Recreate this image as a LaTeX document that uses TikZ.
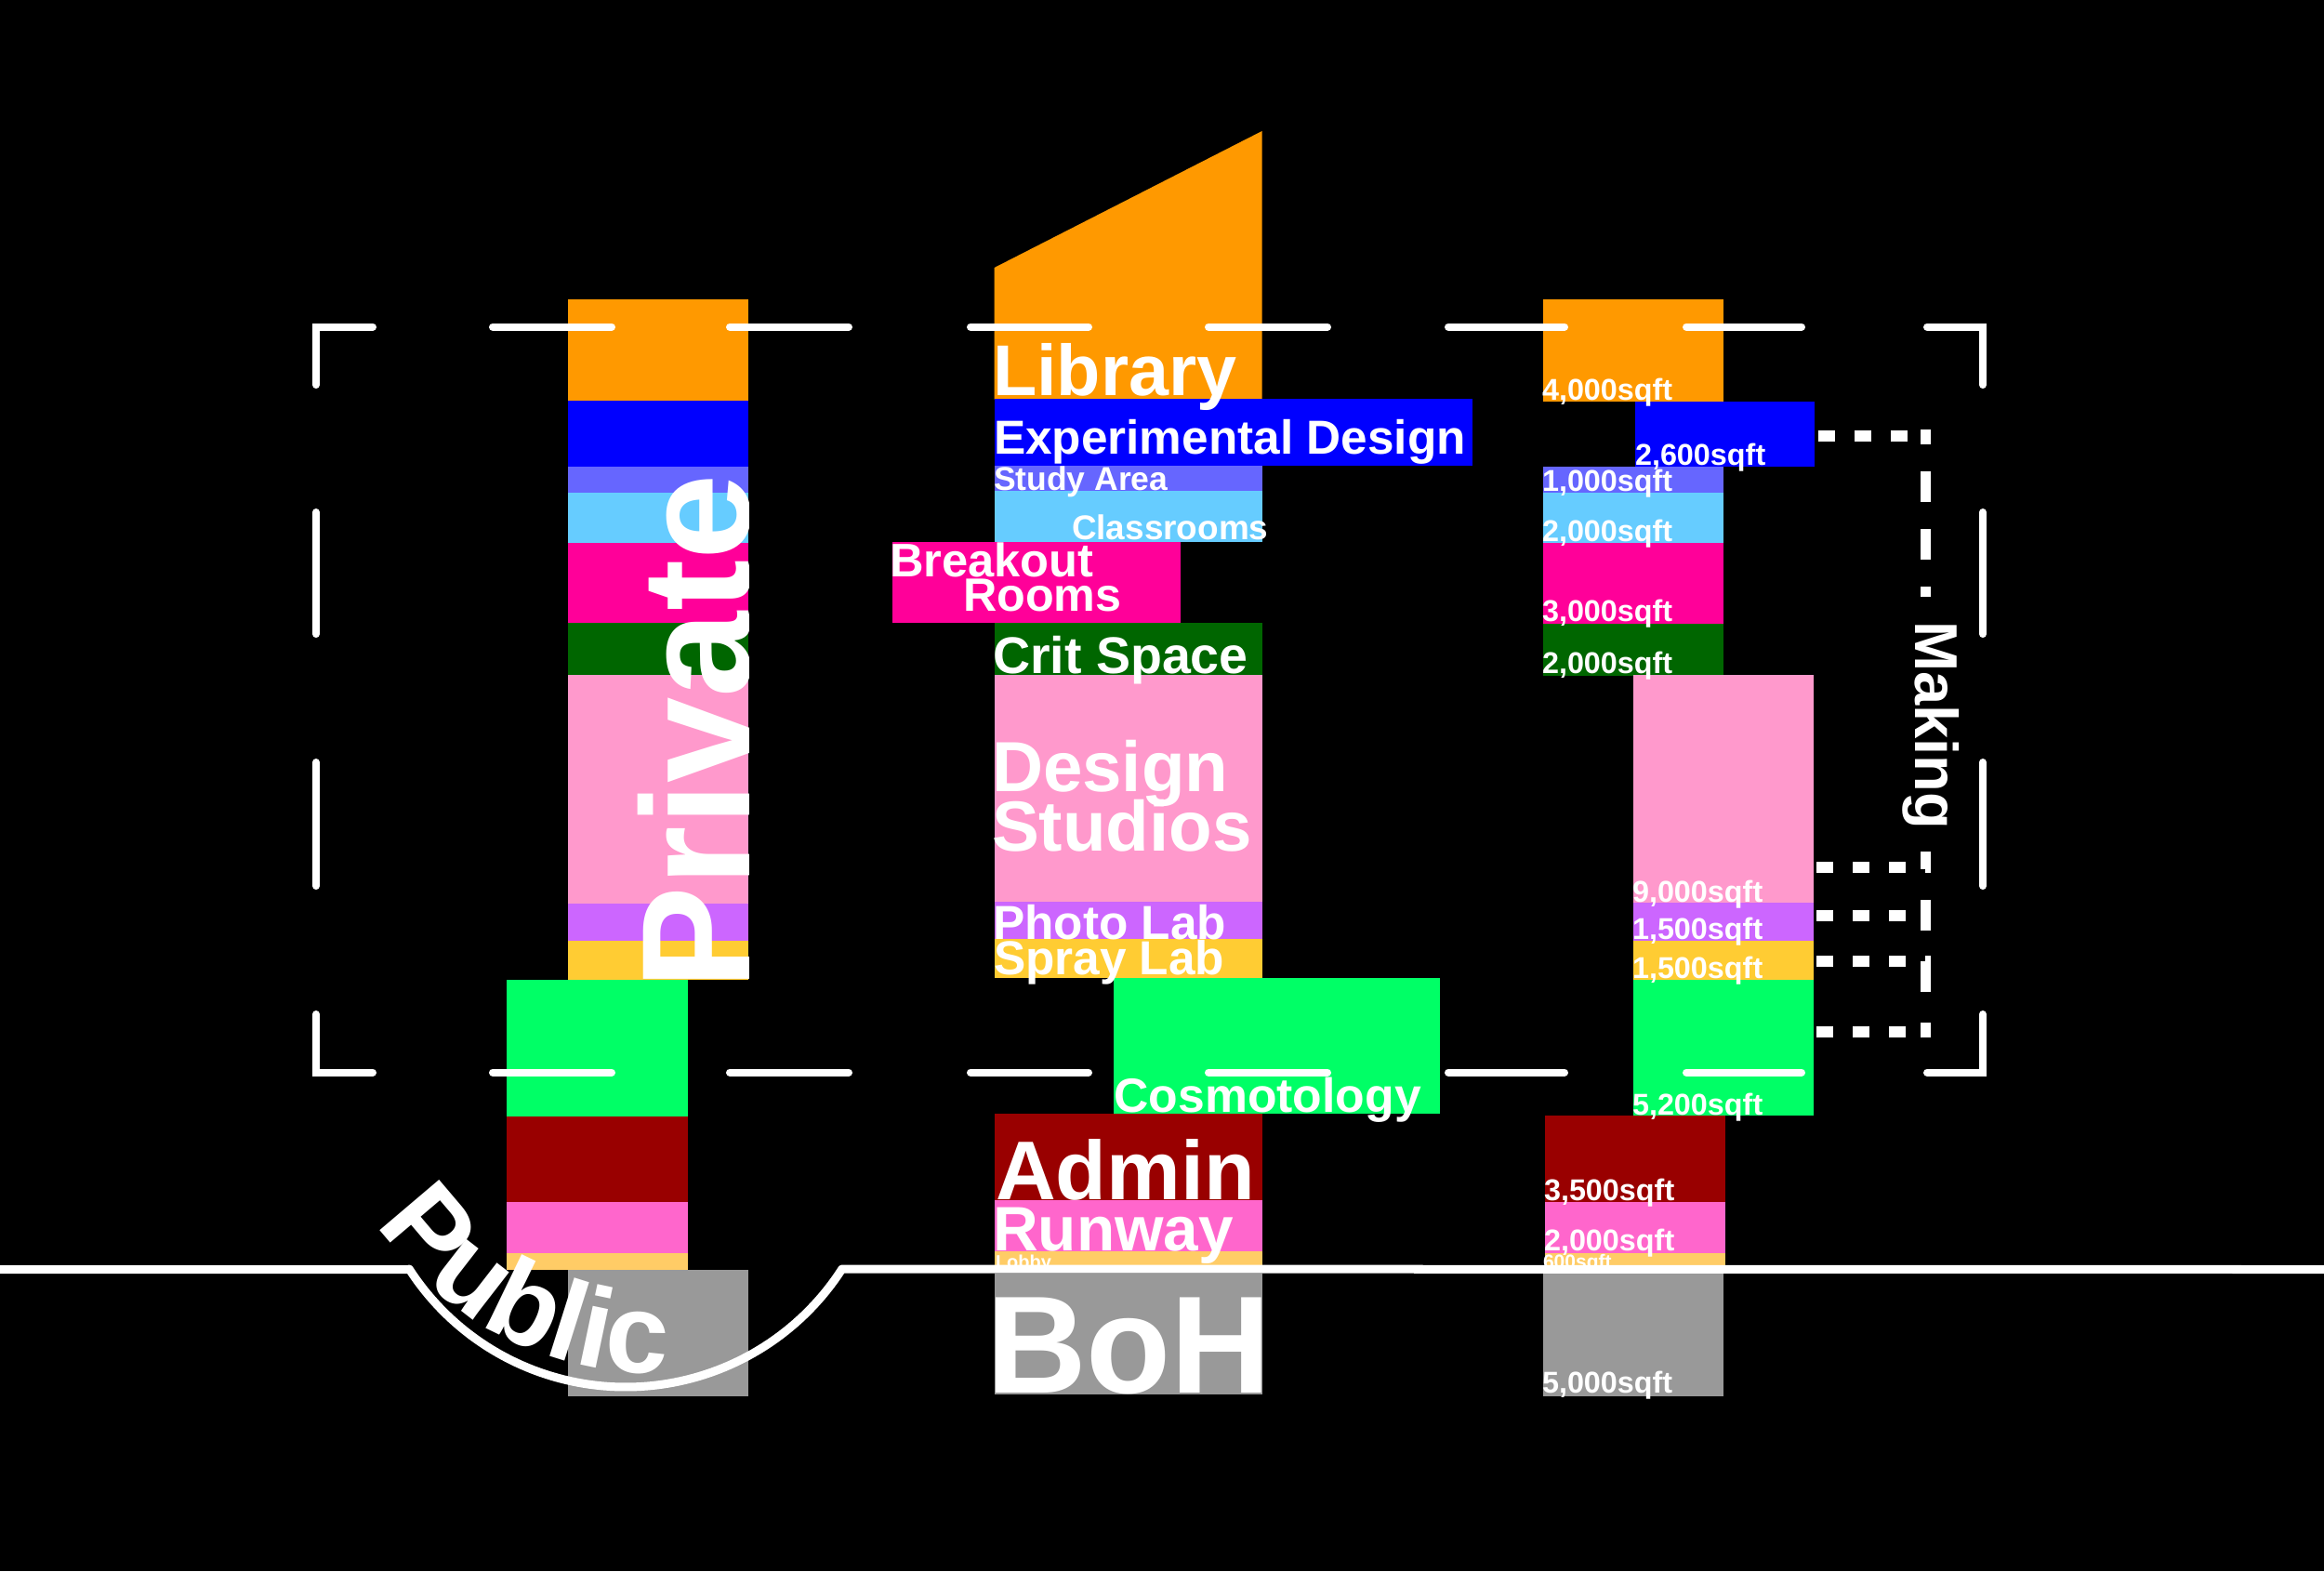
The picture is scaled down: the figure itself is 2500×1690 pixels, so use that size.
\documentclass[tikz,border=0pt]{standalone}
\usepackage{fontspec}
\setmainfont{Liberation Sans}
\usetikzlibrary{decorations.text}
\definecolor{cOrange}{HTML}{FF9900}
\definecolor{cBlue}{HTML}{0000FF}
\definecolor{cPeri}{HTML}{6666FF}
\definecolor{cLBlue}{HTML}{66CCFF}
\definecolor{cMag}{HTML}{FF0099}
\definecolor{cDGreen}{HTML}{006600}
\definecolor{cPink}{HTML}{FF99CC}
\definecolor{cPurple}{HTML}{CC66FF}
\definecolor{cYellow}{HTML}{FFCC33}
\definecolor{cGreen}{HTML}{00FF66}
\definecolor{cDRed}{HTML}{990000}
\definecolor{cHPink}{HTML}{FF66CC}
\definecolor{cLobby}{HTML}{FFCC66}
\definecolor{cGray}{HTML}{999999}
\newcommand\fsz[1]{\fontsize{#1}{#1}\selectfont\bfseries}
\newcommand\pubfont{\fontsize{34.7}{34.7}\selectfont\bfseries}
\newcommand\blk[6]{\node[blk, fill=#2, minimum width={(#5-#3)*0.01cm}, minimum height={(#6-#4)*0.01cm}] (#1) at ({(#3+#5)/2},{(#4+#6)/2}) {};}
\tikzset{
  blk/.style={rectangle, draw=none, inner sep=0pt, outer sep=0pt},
  lbl/.style={text=white, inner sep=0pt, outer sep=0pt, anchor=base west},
  sq/.style={lbl, font=\fsz{9.2}},
  frm/.style={white, line width=2.28pt, line cap=round, line join=miter},
  dotrow/.style={white, line width=3.41pt, dash pattern=on 5.12pt off 5.975pt, dash phase=10pt},
  mline/.style={white, line width=3.13pt},
  hz/.style={white, line width=2.56pt, line join=round}
}
\begin{document}
\begin{tikzpicture}[x=0.01cm, y=-0.01cm]
\useasboundingbox (0,0) rectangle (2500,1690);
\fill[black] (0,0) rectangle (2500,1690);

% ---------- left column ----------
\blk{lOr}{cOrange}{611}{322}{805}{431}
\blk{lBl}{cBlue}{611}{431}{805}{502}
\blk{lPe}{cPeri}{611}{502}{805}{530}
\blk{lLb}{cLBlue}{611}{530}{805}{584}
\blk{lMa}{cMag}{611}{584}{805}{670}
\blk{lDg}{cDGreen}{611}{670}{805}{725.5}
\blk{lPk}{cPink}{611}{725.5}{805}{972}
\blk{lPu}{cPurple}{611}{972}{805}{1012}
\blk{lYe}{cYellow}{611}{1012}{805}{1053.5}
\blk{lGr}{cGreen}{545}{1053.5}{740}{1200.5}
\blk{lDr}{cDRed}{545}{1200.5}{740}{1293}
\blk{lHp}{cHPink}{545}{1293}{740}{1348}
\blk{lLo}{cLobby}{545}{1348}{740}{1366}
\blk{lGy}{cGray}{611}{1366}{805}{1502}

% ---------- middle column ----------
\fill[cOrange] (1069.5,288) -- (1357.5,141) -- (1357.5,429.5) -- (1069.5,429.5) -- cycle;
\blk{mEx}{cBlue}{1069.5}{429}{1584}{500.5}
\blk{mSt}{cPeri}{1069.5}{500.5}{1357.5}{528}
\blk{mCl}{cLBlue}{1069.5}{528}{1357.5}{583}
\blk{mBr}{cMag}{960}{582.5}{1269.5}{669.5}
\blk{mCr}{cDGreen}{1069.5}{669.5}{1357.5}{725.5}
\blk{mDs}{cPink}{1069.5}{725.5}{1357.5}{970}
\blk{mPh}{cPurple}{1069.5}{970}{1357.5}{1010}
\blk{mSp}{cYellow}{1069.5}{1010}{1357.5}{1052}
\blk{mCo}{cGreen}{1198}{1052}{1548.5}{1198}
\blk{mAd}{cDRed}{1069.5}{1198}{1357.5}{1291}
\blk{mRu}{cHPink}{1069.5}{1291}{1357.5}{1345.5}
\blk{mLo}{cLobby}{1069.5}{1345.5}{1357.5}{1366}
\blk{mBo}{cGray}{1069.5}{1370}{1357.5}{1500}

% ---------- right column ----------
\blk{rOr}{cOrange}{1660}{322}{1854}{431.7}
\blk{rBl}{cBlue}{1758.5}{431.7}{1952}{501.7}
\blk{rPe}{cPeri}{1660}{501.7}{1854}{530}
\blk{rLb}{cLBlue}{1660}{530}{1854}{584}
\blk{rMa}{cMag}{1660}{584}{1854}{671}
\blk{rDg}{cDGreen}{1660}{671}{1854}{727}
\blk{rPk}{cPink}{1757}{726}{1950.5}{971.4}
\blk{rPu}{cPurple}{1757}{971.4}{1950.5}{1012}
\blk{rYe}{cYellow}{1757}{1012}{1950.5}{1053.6}
\blk{rGr}{cGreen}{1757}{1053.6}{1950.5}{1200.4}
\blk{rDr}{cDRed}{1662}{1200.4}{1855.5}{1292.8}
\blk{rHp}{cHPink}{1662}{1292.8}{1855.5}{1348}
\blk{rLo}{cLobby}{1662}{1348}{1855.5}{1366}
\blk{rGy}{cGray}{1660}{1370}{1854}{1502}

% ---------- middle labels ----------
\node[lbl, font=\fsz{22.0}] (tLib) at (1068,425) {Library};
\node[lbl, font=\fsz{14.6}] (tExp) at (1069,488) {Experimental Design};
\node[lbl, font=\fsz{10.1}] (tStu) at (1069,527) {Study Area};
\node[lbl, font=\fsz{10.5}] (tCla) at (1153,580) {Classrooms};
\node[lbl, font=\fsz{14.4}] (tBre) at (957,620) {Breakout};
\node[lbl, font=\fsz{14.3}] (tRoo) at (1036,657) {Rooms};
\node[lbl, font=\fsz{15.8}] (tCri) at (1068,724) {Crit Space};
\node[lbl, font=\fsz{21.7}] (tDes) at (1067,851) {Design};
\node[lbl, font=\fsz{21.7}] (tStd) at (1067,915) {Studios};
\node[lbl, font=\fsz{14.6}] (tPho) at (1068,1010) {Photo Lab};
\node[lbl, font=\fsz{14.6}] (tSpr) at (1069,1048) {Spray Lab};
\node[lbl, font=\fsz{14.7}] (tCos) at (1198.5,1196) {Cosmotology};
\node[lbl, font=\fsz{25.5}] (tAdm) at (1071,1290) {Admin};
\node[lbl, font=\fsz{19.2}] (tRun) at (1068,1345) {Runway};
\node[lbl, font=\fsz{5.69}] (tLob) at (1071,1364) {Lobby};
\node[lbl, font=\fsz{42.4}] (tBoH) at (1061,1498) {BoH};

% ---------- right labels ----------
\node[sq] (s1) at (1659,430) {4,000sqft};
\node[sq] (s2) at (1759,500) {2,600sqft};
\node[sq] (s3) at (1659,528) {1,000sqft};
\node[sq] (s4) at (1659,582) {2,000sqft};
\node[sq] (s5) at (1659,668) {3,000sqft};
\node[sq] (s6) at (1659,724) {2,000sqft};
\node[sq] (s7) at (1756,970) {9,000sqft};
\node[sq] (s8) at (1756,1010) {1,500sqft};
\node[sq] (s9) at (1756,1052) {1,500sqft};
\node[sq] (s10) at (1756,1199) {5,200sqft};
\node[sq] (s11) at (1661,1291) {3,500sqft};
\node[sq] (s12) at (1661,1345) {2,000sqft};
\node[lbl, font=\fsz{5.98}] (s13) at (1660,1364) {600sqft};
\node[sq] (s14) at (1659,1498) {5,000sqft};

% ---------- Private ----------
\begin{scope}
\clip (611,300) rectangle (805,1060);
\node[lbl, rotate=90, font=\fsz{47.23}] (private) at (806,1064) {Private};
\end{scope}

% ---------- dashed frame ----------
\draw[frm] (401,351.5) -- (340,351.5) -- (340,414);
\draw[frm] (2073,351.5) -- (2133,351.5) -- (2133,414);
\draw[frm] (401,1153.5) -- (340,1153.5) -- (340,1091);
\draw[frm] (2073,1153.5) -- (2133,1153.5) -- (2133,1091);
\foreach \a/\b in {530/658, 785/913, 1044/1171, 1300/1428, 1558/1683, 1814/1938}{
  \draw[frm] (\a,351.5) -- (\b,351.5);
  \draw[frm] (\a,1153.5) -- (\b,1153.5);
}
\foreach \a/\b in {551/682, 820/953}{
  \draw[frm] (340,\a) -- (340,\b);
  \draw[frm] (2133,\a) -- (2133,\b);
}

% ---------- Making connector ----------
\coordinate (mk0) at (2071.5,462);
\coordinate (mk1) at (2071.5,642);
\coordinate (mk2) at (2071.5,916);
\coordinate (mk3) at (2071.5,1116);
\coordinate (d1) at (2077,468.7);
\coordinate (d2) at (2077,933);
\coordinate (d3) at (2077,985);
\coordinate (d4) at (2077,1034);
\coordinate (d5) at (2077,1109.5);
\draw[mline, dash pattern=on 9.39pt off 8.25pt, dash phase=4.84pt] (mk0) -- (mk1);
\draw[mline, dash pattern=on 9.39pt off 9.39pt, dash phase=4.84pt] (mk3) -- (mk2);
\draw[dotrow] (rBl.east |- d1) -- (d1);
\draw[dotrow] (rPk.east |- d2) -- (d2);
\draw[dotrow] (rPu.east |- d3) -- (d3);
\draw[dotrow] (rYe.east |- d4) -- (d4);
\draw[dotrow] (rGr.east |- d5) -- (d5);
\node[lbl, rotate=-90, font=\fsz{18.49}] (making) at (2060,668) {Making};

% ---------- ground line and Public ----------
\draw[hz] (0,1365.5) -- (440,1365.5) -- plot[domain=0:114.4, samples=80] ({673+277*cos(147.2-\x)},{1215+277*sin(147.2-\x)}) -- (2500,1365.5);
\path[decorate, decoration={text along path, text={|\pubfont\color{white}|Public}, text align=left}]
  plot[domain=0:75, samples=120] ({708+363*cos(146.4-\x)},{1115+363*sin(146.4-\x)});
\end{tikzpicture}
\end{document}
